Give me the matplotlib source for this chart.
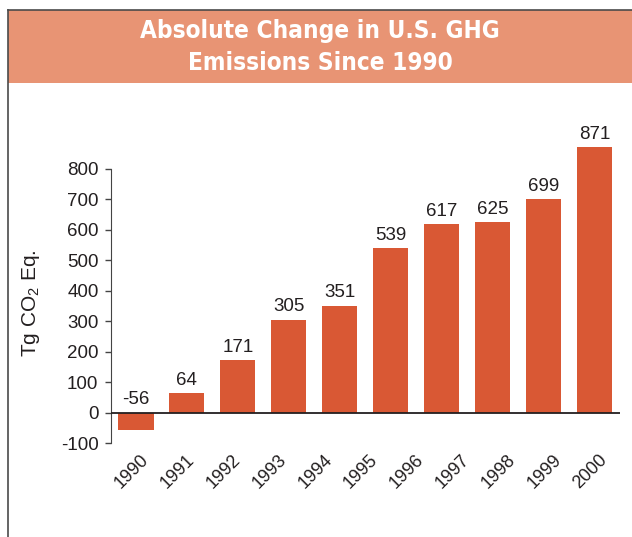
import matplotlib
matplotlib.use("Agg")
import matplotlib.pyplot as plt
import matplotlib.patches as patches
from matplotlib.lines import Line2D
import numpy as np

# values as printed on the chart
values = [-56, 64, 171, 305, 351, 539, 617, 625, 699, 871]
years = ["1990", "1991", "1992", "1993", "1994", "1995",
         "1996", "1997", "1998", "1999", "2000"]
yticks = [-100, 0, 100, 200, 300, 400, 500, 600, 700, 800]

title_lines = ["Absolute Change in U.S. GHG", "Emissions Since 1990"]

bar_color = "#D95834"
head_color = "#E89474"
text_color = "#231F20"

plt.rcParams["font.family"] = ["Liberation Sans", "DejaVu Sans"]
plt.rcParams["mathtext.default"] = "regular"

W, H = 632, 537
fig = plt.figure(figsize=(W / 100, H / 100), dpi=100)

# frame box + header band (pixel coords -> figure fraction)
def fx(px):
    return px / W

def fy(py):
    return 1 - py / H

fig.patches.append(patches.Rectangle((fx(8), fy(83)), 1, fy(10) - fy(83),
                                     transform=fig.transFigure,
                                     facecolor=head_color, edgecolor="none", zorder=0))
fig.lines.append(Line2D([fx(8), 1], [fy(10), fy(10)], transform=fig.transFigure,
                        color="#4a4a4a", lw=1.2))
fig.lines.append(Line2D([fx(8), fx(8)], [0, fy(10)], transform=fig.transFigure,
                        color="#4a4a4a", lw=1.2))

for line, ypx in zip(title_lines, [31, 63]):
    fig.text(fx(320), fy(ypx), line, ha="center", va="center", color="white",
             fontsize=17.5, fontweight="bold", fontstretch="condensed",
             family=["DejaVu Sans"])

# axes
ax = fig.add_axes([fx(111), fy(443), fx(620) - fx(111), fy(123) - fy(443)])
x = np.arange(len(values))
ax.bar(x, values, width=0.69, color=bar_color, zorder=2)
ax.set_xlim(-0.49, 9.5)
ax.set_ylim(-100, 950)

for xi, v in zip(x, values):
    ax.annotate(str(v), (xi, max(v, 0)), xytext=(0, 3), textcoords="offset points",
                ha="center", va="bottom", fontsize=13.5, color=text_color)

ax.axhline(0, color=text_color, lw=1.3, zorder=3)

for s in ["top", "right", "bottom"]:
    ax.spines[s].set_visible(False)
ax.spines["left"].set_bounds(-100, 800)
ax.spines["left"].set_color("#444444")
ax.set_yticks(yticks)
ax.set_yticklabels([str(t) for t in yticks])
ax.tick_params(axis="y", direction="out", length=4, width=1, color="#444444",
               labelsize=13.5, labelcolor=text_color, pad=5)

# year labels (11 labels spread over the 10 bars, as in the original)
tick_pos = 0.08 + 0.9 * np.arange(len(years))
ax.set_xticks(tick_pos)
ax.set_xticklabels(years, rotation=45, ha="right", rotation_mode="anchor")
ax.tick_params(axis="x", length=0, pad=6, labelsize=13, labelcolor=text_color)

fig.text(fx(31), fy(303), "Tg CO$_2$ Eq.", rotation=90, ha="center", va="center",
         fontsize=15, color=text_color)

fig.savefig("out.png", dpi=100)
